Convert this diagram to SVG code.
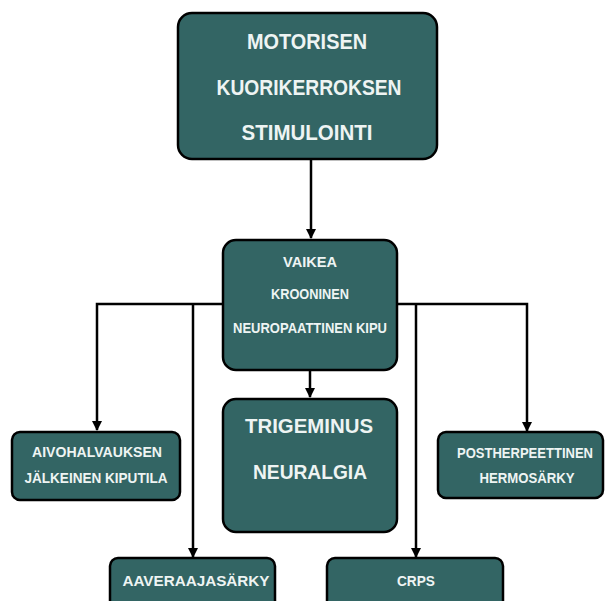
<svg xmlns="http://www.w3.org/2000/svg" width="605" height="601" viewBox="0 0 605 601">
<defs>
<marker id="ah" markerUnits="userSpaceOnUse" markerWidth="10" markerHeight="10" refX="9" refY="5" orient="auto" viewBox="0 0 10 10">
<path d="M0,0 L10,5 L0,10 Z" fill="#000"/>
</marker>
<style>
.box{fill:#336564;stroke:#000;stroke-width:2.5}
.t{font-family:"Liberation Sans",Arial,sans-serif;font-weight:bold;fill:#eef4f3;text-anchor:middle}
.c{fill:none;stroke:#000;stroke-width:2.5}
</style>
</defs>
<rect width="605" height="601" fill="#fff"/>
<g id="connectors">
<path class="c" d="M311,159 V238" marker-end="url(#ah)"/>
<path class="c" d="M310,370 V397" marker-end="url(#ah)"/>
<path class="c" d="M223,304 H97 V430" marker-end="url(#ah)"/>
<path class="c" d="M193,304 V557" marker-end="url(#ah)"/>
<path class="c" d="M397,304 H527 V431" marker-end="url(#ah)"/>
<path class="c" d="M416,304 V557" marker-end="url(#ah)"/>
</g>
<g id="n_motor">
<rect class="box" x="178" y="13" width="259" height="146" rx="14"/>
<text class="t" x="307" y="49" font-size="22" textLength="120" lengthAdjust="spacingAndGlyphs">MOTORISEN</text>
<text class="t" x="309" y="95" font-size="22" textLength="185" lengthAdjust="spacingAndGlyphs">KUORIKERROKSEN</text>
<text class="t" x="307" y="140" font-size="22" textLength="131" lengthAdjust="spacingAndGlyphs">STIMULOINTI</text>
</g>
<g id="n_kipu">
<rect class="box" x="223" y="240" width="174" height="130" rx="13"/>
<text class="t" x="310" y="267" font-size="15" textLength="54" lengthAdjust="spacingAndGlyphs">VAIKEA</text>
<text class="t" x="310" y="299" font-size="15" textLength="78" lengthAdjust="spacingAndGlyphs">KROONINEN</text>
<text class="t" x="310" y="333" font-size="15" textLength="154" lengthAdjust="spacingAndGlyphs">NEUROPAATTINEN KIPU</text>
</g>
<g id="n_trigeminus">
<rect class="box" x="223" y="399" width="174" height="133" rx="13"/>
<text class="t" x="309" y="433" font-size="21" textLength="128" lengthAdjust="spacingAndGlyphs">TRIGEMINUS</text>
<text class="t" x="310" y="479" font-size="21" textLength="114" lengthAdjust="spacingAndGlyphs">NEURALGIA</text>
</g>
<g id="n_aivo">
<rect class="box" x="12" y="432" width="168" height="68" rx="8"/>
<text class="t" x="97" y="457" font-size="15" textLength="130" lengthAdjust="spacingAndGlyphs">AIVOHALVAUKSEN</text>
<text class="t" x="96" y="483" font-size="15" textLength="143" lengthAdjust="spacingAndGlyphs">JÄLKEINEN KIPUTILA</text>
</g>
<g id="n_post">
<rect class="box" x="438" y="432" width="165" height="66" rx="8"/>
<text class="t" x="525" y="458" font-size="14" textLength="136" lengthAdjust="spacingAndGlyphs">POSTHERPEETTINEN</text>
<text class="t" x="527" y="483" font-size="15" textLength="95" lengthAdjust="spacingAndGlyphs">HERMOSÄRKY</text>
</g>
<g id="n_aave">
<rect class="box" x="110" y="558" width="165" height="60" rx="8"/>
<text class="t" x="196" y="586" font-size="15" textLength="147" lengthAdjust="spacingAndGlyphs">AAVERAAJASÄRKY</text>
</g>
<g id="n_crps">
<rect class="box" x="327" y="558" width="176" height="60" rx="8"/>
<text class="t" x="416" y="586" font-size="15" textLength="38" lengthAdjust="spacingAndGlyphs">CRPS</text>
</g>
</svg>
